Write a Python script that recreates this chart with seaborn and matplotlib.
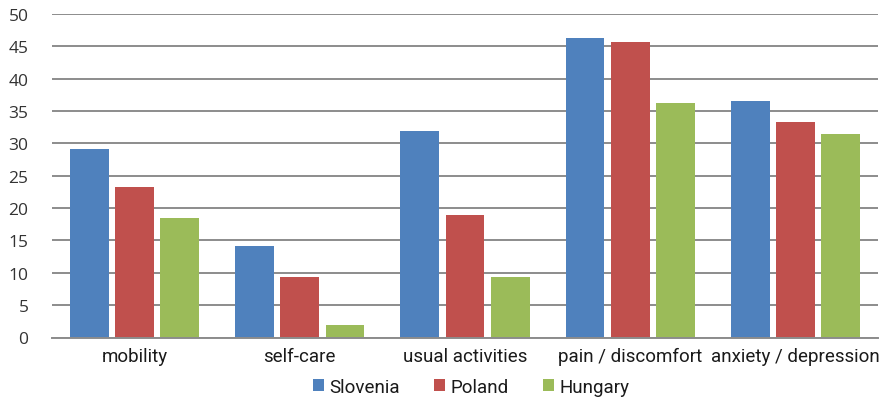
import matplotlib
matplotlib.use("Agg")
import matplotlib.pyplot as plt
import seaborn as sns
import pandas as pd

categories = ["mobility", "self-care", "usual activities", "pain / discomfort", "anxiety / depression"]
countries = ["Slovenia", "Poland", "Hungary"]
slovenia = [29.1, 14.2, 31.9, 46.3, 36.5]
poland = [23.2, 9.4, 19.0, 45.6, 33.3]
hungary = [18.4, 2.0, 9.4, 36.2, 31.4]
y_ticks = [0, 5, 10, 15, 20, 25, 30, 35, 40, 45, 50]

colors = ["#4F81BD", "#C0504D", "#9BBB59"]

rows = []
for country, values in zip(countries, [slovenia, poland, hungary]):
    for cat, v in zip(categories, values):
        rows.append({"category": cat, "country": country, "value": v})
df = pd.DataFrame(rows)

sns.set_theme(style="white")
plt.rcParams["font.family"] = ["Roboto", "DejaVu Sans"]

fig = plt.figure(figsize=(8.9, 4.02), dpi=100)
ax = fig.add_axes([52 / 890, 1 - 338.5 / 402, 826 / 890, 323.5 / 402])

ax.yaxis.grid(True, color="#8c8c8c", linewidth=1.4)
ax.set_axisbelow(True)

sns.barplot(data=df, x="category", y="value", hue="country",
            order=categories, hue_order=countries, palette=colors,
            width=0.82, gap=0.14, saturation=1, linewidth=0, edgecolor="none",
            ax=ax, legend=True)

ax.set_ylim(0, 50)
ax.set_xlim(-0.5, len(categories) - 0.5)
ax.set_yticks(y_ticks)
ax.set_yticklabels([str(t) for t in y_ticks], family="Open Sans", fontsize=12.5, color="#333333")
ax.tick_params(axis="y", length=0, pad=17)
ax.tick_params(axis="x", length=0, pad=7, labelsize=13.5, labelcolor="#1a1a1a")
ax.set_xlabel("")
ax.set_ylabel("")
for side in ["left", "right", "top"]:
    ax.spines[side].set_visible(False)
ax.spines["bottom"].set_color("#8c8c8c")
ax.spines["bottom"].set_linewidth(1.4)

handles, labels = ax.get_legend_handles_labels()
ax.legend(handles, labels, loc="center", bbox_to_anchor=(471 / 890, 1 - 388 / 402),
          bbox_transform=fig.transFigure, ncol=3, frameon=False, fontsize=13.5,
          handlelength=0.6, handleheight=0.6, handletextpad=0.3, columnspacing=1.8,
          labelcolor="#1a1a1a")

fig.savefig("out.png", dpi=100)
